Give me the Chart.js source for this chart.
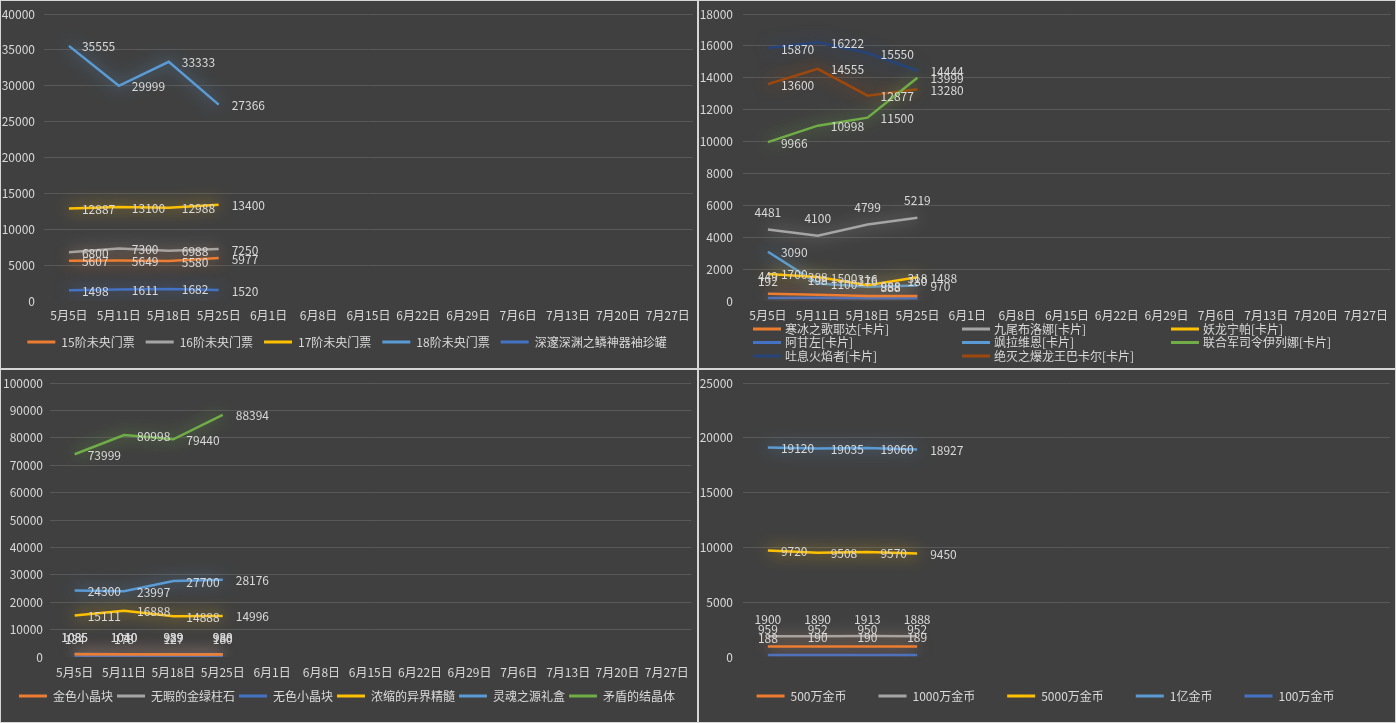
<!DOCTYPE html>
<html><head><meta charset="utf-8">
<script src="https://cdn.jsdelivr.net/npm/chart.js@4.4.1/dist/chart.umd.min.js"></script>
<style>
html,body{margin:0;padding:0;background:#d6d6d6;width:1396px;height:723px;overflow:hidden}
.p{position:absolute;background:#404040}
canvas{display:block}
</style></head><body>
<div class="p" style="left:1px;top:1px;width:696px;height:367px"><canvas id="c1" width="696" height="367"></canvas></div>
<div class="p" style="left:699px;top:1px;width:696px;height:367px"><canvas id="c2" width="696" height="367"></canvas></div>
<div class="p" style="left:1px;top:370px;width:696px;height:352px"><canvas id="c3" width="696" height="352"></canvas></div>
<div class="p" style="left:699px;top:370px;width:696px;height:352px"><canvas id="c4" width="696" height="352"></canvas></div>
<script>
// ---------- data ----------
const dates = ['5月5日','5月11日','5月18日','5月25日','6月1日','6月8日','6月15日','6月22日','6月29日','7月6日','7月13日','7月20日','7月27日'];

// panel 1
const p1Names = ['15阶未央门票','16阶未央门票','17阶未央门票','18阶未央门票','深邃深渊之鳞神器袖珍罐'];
const p1_15 = [5607, 5649, 5580, 5977];
const p1_16 = [6800, 7300, 6988, 7250];
const p1_17 = [12887, 13100, 12988, 13400];
const p1_18 = [35555, 29999, 33333, 27366];
const p1_deep = [1498, 1611, 1682, 1520];

// panel 2
const p2Names = ['寒冰之歌耶达[卡片]','九尾布洛娜[卡片]','妖龙宁帕[卡片]','阿甘左[卡片]','飒拉维恩[卡片]','联合军司令伊列娜[卡片]','吐息火焰者[卡片]','绝灭之爆龙王巴卡尔[卡片]'];
const p2_yeda = [449, 388, 316, 318];
const p2_bluona = [4481, 4100, 4799, 5219];
const p2_ningpa = [1700, 1500, 988, 1488];
const p2_aganzuo = [192, 198, 176, 180];
const p2_salaweien = [3090, 1100, 888, 970];
const p2_yiliena = [9966, 10998, 11500, 13999];
const p2_tuxi = [15870, 16222, 15550, 14444];
const p2_bakaer = [13600, 14555, 12877, 13280];

// panel 3
const p3Names = ['金色小晶块','无暇的金绿柱石','无色小晶块','浓缩的异界精髓','灵魂之源礼盒','矛盾的结晶体'];
const p3_gold = [1035, 1010, 929, 930];
const p3_beryl = [1085, 1040, 989, 988];
const p3_clear = [134, 178, 127, 180];
const p3_essence = [15111, 16888, 14888, 14996];
const p3_soulbox = [24300, 23997, 27700, 28176];
const p3_crystal = [73999, 80998, 79440, 88394];

// panel 4
const p4Names = ['500万金币','1000万金币','5000万金币','1亿金币','100万金币'];
const p4_5m = [959, 952, 950, 952];
const p4_10m = [1900, 1890, 1913, 1888];
const p4_50m = [9720, 9508, 9570, 9450];
const p4_100m = [19120, 19035, 19060, 18927];
const p4_1m = [188, 190, 190, 189];

// ---------- style ----------
const FONT = '"Noto Sans CJK SC", "Noto Sans", sans-serif';
const TXT = '#d9d9d9';
const GRID = '#595959';
const C = {blue:'#4472C4', orange:'#ED7D31', gray:'#A5A5A5', yellow:'#FFC000', lblue:'#5B9BD5', green:'#70AD47', navy:'#264478', brown:'#9E480E'};
Chart.defaults.font.family = FONT;
Chart.defaults.font.size = 12;
Chart.defaults.color = TXT;

function rgba(hex, a){const n=parseInt(hex.slice(1),16);return 'rgba('+(n>>16)+','+((n>>8)&255)+','+(n&255)+','+a+')';}

const glowPlugin = {
  id:'glow',
  beforeDatasetDraw(chart, args){
    const ds = chart.data.datasets[args.index];
    const ctx = chart.ctx;
    ctx.save();
    ctx.shadowColor = rgba(ds.borderColor, 0.9);
    ctx.shadowBlur = 16;
  },
  afterDatasetDraw(chart){ chart.ctx.restore(); }
};

const labelPlugin = {
  id:'valueLabels',
  afterDatasetsDraw(chart, args, opts){
    const ctx = chart.ctx;
    ctx.save();
    ctx.font = '12px ' + FONT;
    ctx.fillStyle = TXT;
    ctx.textBaseline = 'middle';
    chart.data.datasets.forEach((ds, i) => {
      const meta = chart.getDatasetMeta(i);
      meta.data.forEach((pt, j) => {
        const v = ds.data[j];
        if (v == null) return;
        if (opts.pos[i] === 'top') { ctx.textAlign = 'center'; ctx.fillText(String(v), pt.x, pt.y - 17); }
        else { ctx.textAlign = 'left'; ctx.fillText(String(v), pt.x + 13, pt.y + 1); }
      });
    });
    ctx.restore();
  }
};

const gridLegend = {
  id:'gridLegend',
  afterDraw(chart, args, o){
    if (!o || !o.cols) return;
    const ctx = chart.ctx;
    ctx.save();
    ctx.font = '12px ' + FONT;
    ctx.textBaseline = 'middle';
    ctx.textAlign = 'left';
    chart.data.datasets.forEach((ds, i) => {
      const col = i % o.cols, row = Math.floor(i / o.cols);
      const x = o.x0 + col * o.dx, y = o.y0 + row * o.dy;
      ctx.fillStyle = ds.borderColor;
      ctx.fillRect(x, y - 1.5, 28, 3);
      ctx.fillStyle = TXT;
      ctx.fillText(ds.label, x + 32, y);
    });
    ctx.restore();
  }
};

function makeChart(id, names, series, colors, pos, s){
  const datasets = series.map((d, i) => ({
    label: names[i], data: d, borderColor: colors[i], backgroundColor: colors[i],
    borderWidth: 2.5, pointRadius: 0, tension: 0, fill: false
  }));
  const legend = s.legendPad == null ? {display:false} : {
    display:true, position:'bottom',
    labels:{
      boxWidth:28, boxHeight:3, padding:s.legendPad, color:TXT, font:{size:12, family:FONT},
      generateLabels(chart){
        const items = Chart.defaults.plugins.legend.labels.generateLabels(chart);
        items.forEach(it => { it.fillStyle = it.strokeStyle; it.lineWidth = 0; });
        return items;
      }
    }
  };
  return new Chart(document.getElementById(id), {
    type:'line',
    data:{labels: dates, datasets},
    options:{
      responsive:false, animation:false, events:[],
      layout:{padding:{top:s.top, left:0, right:s.right, bottom:s.bottom}},
      scales:{
        x:{type:'category', offset:true,
           grid:{display:false, drawTicks:false}, border:{display:false},
           ticks:{padding:s.xPad, maxRotation:0, minRotation:0, autoSkip:false, color:TXT, font:{size:12, family:FONT}},
           afterFit(sc){ sc.height = s.xh; }},
        y:{min:0, max:s.max,
           grid:{color:(c)=> (c.tick && c.tick.value === 0) ? 'rgba(0,0,0,0)' : GRID, drawTicks:false, lineWidth:1},
           border:{display:false},
           ticks:{stepSize:s.step, padding:s.yPad, color:TXT, font:{size:12, family:FONT}, callback:(v)=>String(v)},
           afterFit(sc){ sc.width = s.yw; sc.paddingTop = 0; sc.paddingBottom = 0; }}
      },
      plugins:{legend, tooltip:{enabled:false}, valueLabels:{pos}, gridLegend: s.grid || {}}
    },
    plugins:[glowPlugin, labelPlugin, gridLegend]
  });
}

makeChart('c1', p1Names, [p1_15, p1_16, p1_17, p1_18, p1_deep],
  [C.orange, C.gray, C.yellow, C.lblue, C.blue],
  ['right','right','right','right','right'],
  {top:13, max:40000, step:5000, yw:43, yPad:9, right:4, bottom:10, xh:24, xPad:7, legendPad:11});

makeChart('c2', p2Names, [p2_yeda, p2_bluona, p2_ningpa, p2_aganzuo, p2_salaweien, p2_yiliena, p2_tuxi, p2_bakaer],
  [C.orange, C.gray, C.yellow, C.blue, C.lblue, C.green, C.navy, C.brown],
  ['top','top','right','top','right','right','right','right'],
  {top:13, max:18000, step:2000, yw:44, yPad:10, right:3, bottom:43, xh:24, xPad:7, legendPad:null,
   grid:{cols:3, x0:54, dx:209, y0:328, dy:13.5}});

makeChart('c3', p3Names, [p3_gold, p3_beryl, p3_clear, p3_essence, p3_soulbox, p3_crystal],
  [C.orange, C.gray, C.blue, C.yellow, C.lblue, C.green],
  ['top','top','top','right','right','right'],
  {top:13, max:100000, step:10000, yw:49, yPad:7, right:4, bottom:10, xh:29, xPad:8, legendPad:4});

makeChart('c4', p4Names, [p4_5m, p4_10m, p4_50m, p4_100m, p4_1m],
  [C.orange, C.gray, C.yellow, C.lblue, C.blue],
  ['top','top','right','right','top'],
  {top:13, max:25000, step:5000, yw:44, yPad:10, right:3, bottom:10, xh:1, xPad:8, legendPad:32});
</script>
</body></html>
